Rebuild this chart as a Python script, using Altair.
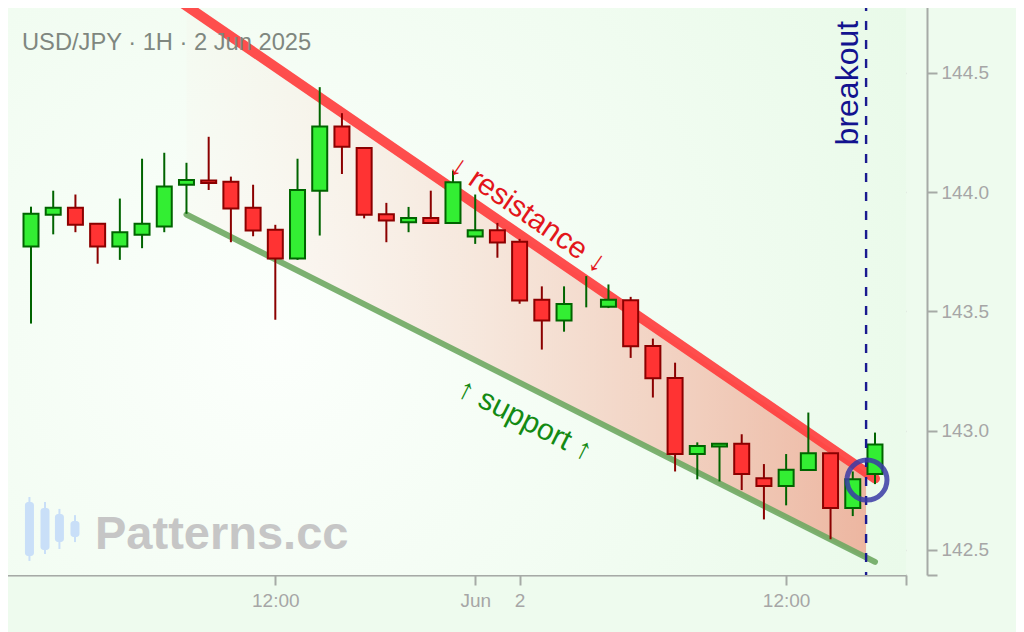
import altair as alt
import pandas as pd

# ---------------- data ----------------
idx = list(range(39))
opens = [143.772, 143.905, 143.934, 143.867, 143.772, 143.821, 143.856, 144.031, 144.049, 144.043,
         143.934, 143.842, 143.722, 144.006, 144.275, 144.185, 143.907, 143.874, 143.892, 143.871,
         143.814, 143.840, 143.792, 143.549, 143.462, 143.580, 143.520, 143.547, 143.355, 143.221,
         142.902, 142.934, 142.945, 142.801, 142.768, 142.835, 142.905, 142.676, 142.818]
highs = [143.939, 144.006, 143.990, 143.867, 143.973, 144.140, 144.165, 144.123, 144.232, 144.065,
         144.031, 143.863, 144.140, 144.440, 144.331, 144.188, 143.955, 143.938, 144.006, 144.090,
         143.990, 143.871, 143.804, 143.605, 143.605, 143.648, 143.613, 143.561, 143.386, 143.285,
         142.951, 142.945, 142.985, 142.860, 142.902, 143.076, 142.905, 142.829, 142.992]
lows = [143.449, 143.823, 143.832, 143.700, 143.716, 143.765, 143.832, 143.909, 144.009, 143.790,
        143.815, 143.465, 143.716, 143.818, 144.076, 143.890, 143.790, 143.832, 143.871, 143.867,
        143.783, 143.725, 143.532, 143.340, 143.415, 143.517, 143.514, 143.305, 143.139, 142.829,
        142.796, 142.787, 142.751, 142.628, 142.687, 142.835, 142.545, 142.642, 142.776]
closes = [143.909, 143.934, 143.863, 143.772, 143.832, 143.867, 144.024, 144.051, 144.038, 143.931,
          143.839, 143.722, 144.009, 144.275, 144.190, 143.905, 143.881, 143.892, 143.871, 144.041,
          143.840, 143.789, 143.546, 143.462, 143.531, 143.580, 143.549, 143.354, 143.220, 142.902,
          142.936, 142.945, 142.818, 142.768, 142.836, 142.905, 142.676, 142.796, 142.942]

# trend lines (candle index, price)
res_x = [6.85, 38.0]
res_y = [144.79, 142.80]
sup_x = [7.0, 38.0]
sup_y = [143.906, 142.450]
# shaded channel edges
band_x = [7.0, 37.6]
band_top = [144.785, 142.824]
band_bot = [143.906, 142.464]

breakout_x = [37.6]
circle_x = [37.64]
circle_y = [142.793]

# axis ticks
x_domain = [-1.261, 39.397]
y_domain = [142.395, 144.797]
x_ticks = [-1.261, 11, 20, 22, 34, 39.397]
x_labels = ["", "12:00", "Jun", "2", "12:00", ""]
y_ticks = [142.395, 142.5, 143.0, 143.5, 144.0, 144.5, 144.797]

# watermark logo candles
logo_x = [-0.07, 0.63, 1.28, 1.98]
logo_body_lo = [142.475, 142.500, 142.533, 142.554]
logo_body_hi = [142.701, 142.676, 142.651, 142.621]
logo_wick_lo = [142.454, 142.483, 142.504, 142.533]
logo_wick_hi = [142.722, 142.701, 142.672, 142.646]

title_text = "USD/JPY · 1H · 2 Jun 2025"
watermark_text = "Patterns.cc"

# ---------------- chart ----------------
FONT = "Liberation Sans"
W, H = 903, 573
candles = pd.DataFrame({"i": idx, "open": opens, "high": highs, "low": lows, "close": closes})

xs = alt.Scale(domain=x_domain, nice=False, zero=False, padding=0)
ys = alt.Scale(domain=y_domain, nice=False, zero=False, padding=0)

label_expr = "".join(
    f"datum.value == {v} ? '{l}' : " for v, l in zip(x_ticks, x_labels)
) + "''"
xa = alt.Axis(values=x_ticks, labelExpr=label_expr, grid=False, orient="bottom",
              domainColor="#a6aaa6", domainWidth=2, tickColor="#a6aaa6", tickWidth=2,
              tickSize=10, labelColor="#a6a6a6", labelFont=FONT, labelFontSize=19,
              labelPadding=6, title=None)
ya = alt.Axis(values=y_ticks, orient="right", offset=21,
              labelExpr="datum.value < 142.45 || datum.value > 144.7 ? '' : format(datum.value, '.1f')",
              grid=True, gridColor="#d5dcd5", gridWidth=1.6,
              domainColor="#a6aaa6", domainWidth=2, tickColor="#a6aaa6", tickWidth=2,
              tickSize=10, labelColor="#a6a6a6", labelFont=FONT, labelFontSize=19,
              labelPadding=4, title=None)


def X(f):
    return alt.X(f, type="quantitative", scale=xs, axis=xa, title=None)


def Y(f):
    return alt.Y(f, type="quantitative", scale=ys, axis=ya, title=None)


bg = alt.Chart(pd.DataFrame({"k": [0]})).mark_rect(
    fill=alt.RadialGradient(
        gradient="radial",
        stops=[alt.GradientStop(color="#fcfffc", offset=0),
               alt.GradientStop(color="#e5f9e5", offset=1)],
        x1=0.3, y1=0.55, x2=0.3, y2=0.55, r1=0, r2=0.95),
).encode(x=alt.value(0), x2=alt.value(W), y=alt.value(0), y2=alt.value(H))

band_df = pd.DataFrame({"x": band_x, "top": band_top, "bot": band_bot})
band = alt.Chart(band_df).mark_area(
    fill=alt.LinearGradient(
        gradient="linear",
        stops=[alt.GradientStop(color="rgba(252,205,190,0.05)", offset=0),
               alt.GradientStop(color="rgba(238,140,115,0.62)", offset=1)],
        x1=0, x2=1, y1=0, y2=0),
).encode(x=X("x"), y=Y("bot"), y2="top")

logo_df = pd.DataFrame({"x": logo_x, "blo": logo_body_lo, "bhi": logo_body_hi,
                        "wlo": logo_wick_lo, "whi": logo_wick_hi})
logo_w = alt.Chart(logo_df).mark_rule(color="#c9dff8", strokeWidth=2).encode(
    x=X("x"), y=Y("wlo"), y2="whi")
logo_b = alt.Chart(logo_df).mark_bar(color="#c9dff8", size=9, cornerRadius=3).encode(
    x=X("x"), y=Y("blo"), y2="bhi")

wm = alt.Chart(pd.DataFrame({"t": [watermark_text]})).mark_text(
    font=FONT, fontSize=47, fontWeight="bold", color="#c6c6c6", align="left",
    baseline="alphabetic").encode(x=alt.value(92), y=alt.value(547), text="t:N")

sup_df = pd.DataFrame({"x": sup_x, "y": sup_y})
sup = alt.Chart(sup_df).mark_line(color="#6ea862", strokeWidth=6, opacity=0.9,
                                  strokeCap="round").encode(x=X("x"), y=Y("y"))
res_df = pd.DataFrame({"x": res_x, "y": res_y})
res = alt.Chart(res_df).mark_line(color="#ff3b3b", strokeWidth=10, opacity=0.9,
                                  strokeCap="round").encode(x=X("x"), y=Y("y"))

up = "datum.close >= datum.open"
wicks = alt.Chart(candles).mark_rule(strokeWidth=2).encode(
    x=X("i"), y=Y("low"), y2="high",
    color=alt.condition(up, alt.value("#006400"), alt.value("#8b0000")))
bodies = alt.Chart(candles).transform_filter("datum.open != datum.close").mark_bar(
    size=15, strokeWidth=2).encode(
    x=X("i"), y=Y("open"), y2="close",
    fill=alt.condition(up, alt.value("#33ee33"), alt.value("#ff3333")),
    stroke=alt.condition(up, alt.value("#006400"), alt.value("#8b0000")))

brk = alt.Chart(pd.DataFrame({"x": breakout_x})).mark_rule(
    color="#1a1a90", strokeWidth=2.4, strokeDash=[9, 10]).encode(x=X("x"))

circ = alt.Chart(pd.DataFrame({"x": circle_x, "y": circle_y})).mark_point(
    shape="circle", size=1600, filled=False, stroke="#3b3ba6", strokeWidth=5,
    opacity=0.85).encode(x=X("x"), y=Y("y"))

res_lbl = alt.Chart(pd.DataFrame({"x": [22.38], "y": [143.906], "t": ["↓ resistance ↓"]})).mark_text(
    font=FONT, fontSize=30, color="#e3161b", angle=34.6, align="center",
    baseline="middle").encode(x=X("x"), y=Y("y"), text="t:N")
sup_lbl = alt.Chart(pd.DataFrame({"x": [22.24], "y": [143.044], "t": ["↑ support ↑"]})).mark_text(
    font=FONT, fontSize=30, color="#138a13", angle=26.9, align="center",
    baseline="middle").encode(x=X("x"), y=Y("y"), text="t:N")
brk_lbl = alt.Chart(pd.DataFrame({"x": [37.24], "y": [144.718], "t": ["breakout"]})).mark_text(
    font=FONT, fontSize=32, color="#13138f", angle=270, align="right",
    baseline="alphabetic").encode(x=X("x"), y=Y("y"), text="t:N")

ttl = alt.Chart(pd.DataFrame({"t": [title_text]})).mark_text(
    font=FONT, fontSize=23.7, color="#7f877f", align="left",
    baseline="alphabetic").encode(x=alt.value(19), y=alt.value(48), text="t:N")

chart = alt.layer(
    bg, band, logo_w, logo_b, wm, sup, res, wicks, bodies, brk, circ,
    res_lbl, sup_lbl, brk_lbl, ttl
).properties(
    width=W, height=H,
    autosize=alt.AutoSizeParams(type="none"),
    padding={"left": -5, "top": -6, "right": 110, "bottom": 60},
    background="#eefbee",
).configure_view(stroke=None)

chart.save("out.html", embed_options={"renderer": "svg", "actions": False})
